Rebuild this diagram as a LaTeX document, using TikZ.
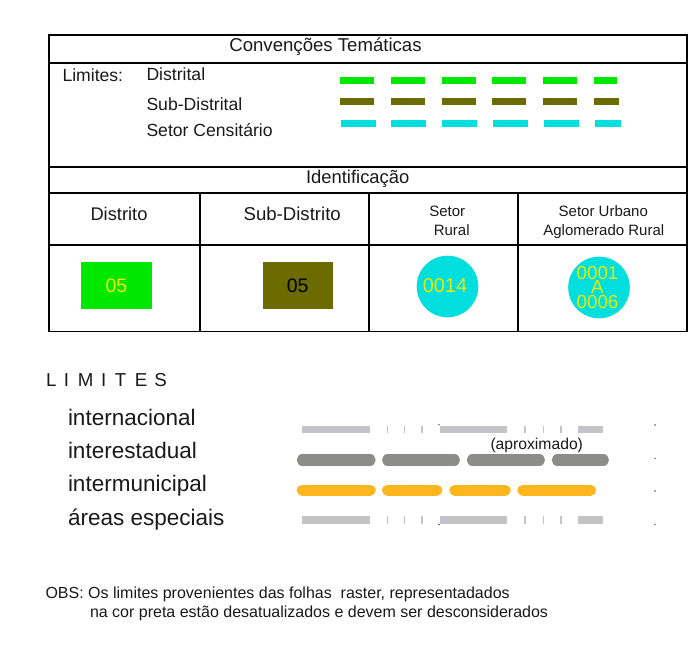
\documentclass[tikz,border=0pt]{standalone}
\usepackage{fontspec}
\setmainfont{Liberation Sans}
\definecolor{cgreen}{RGB}{0,232,0}
\definecolor{colive}{RGB}{107,107,0}
\definecolor{ccyan}{RGB}{0,222,222}
\definecolor{cyel}{RGB}{235,235,0}
\definecolor{clight}{RGB}{196,196,200}
\definecolor{cmid}{RGB}{140,141,139}
\definecolor{corange}{RGB}{253,182,30}
\definecolor{ctext}{RGB}{25,25,25}
\newcommand\myfs[1]{\fontsize{#1}{#1}\selectfont}
\begin{document}
\begin{tikzpicture}[x=1pt,y=-1pt,
  txt/.style={inner sep=0pt,outer sep=0pt,text=ctext},
  grid/.style={line width=1.8pt,draw=black},
  tdash/.style={line width=7.5pt},
  tick/.style={draw=clight,line width=1.3pt},
  thick gray/.style={line width=11.3pt,line cap=round,draw=cmid},
  thick orange/.style={line width=11pt,line cap=round,draw=corange},
  dotmark/.style={fill=black!70}
]
\useasboundingbox (0,0) rectangle (699,646);

% ---------- table ----------
\draw[grid] (49.3,35) rectangle (687.3,331.5);
\draw[grid] (49.3,62.7) -- (687.3,62.7);
\draw[grid] (49.3,166.7) -- (687.3,166.7);
\draw[grid] (49.3,193.3) -- (687.3,193.3);
\draw[grid] (49.3,245) -- (687.3,245);
\draw[grid] (200,193.3) -- (200,331.5);
\draw[grid] (369.3,193.3) -- (369.3,331.5);
\draw[grid] (518,193.3) -- (518,331.5);

\node[txt,anchor=base] (title) at (325.5,51.7) {\myfs{18.6}Convenções Temáticas};
\node[txt,anchor=base west] (lim) at (62.5,81.3) {\myfs{17.6}Limites:};
\node[txt,anchor=base west] (dist) at (146.5,80) {\myfs{17.6}Distrital};
\node[txt,anchor=base west] (subd) at (146.5,110.5) {\myfs{17.6}Sub-Distrital};
\node[txt,anchor=base west] (setc) at (146.5,136) {\myfs{17.6}Setor Censitário};

\draw[tdash,draw=cgreen,dash pattern=on 34pt off 16.8pt] (340,80.7) -- (617,80.7);
\draw[tdash,draw=colive,dash pattern=on 34pt off 16.8pt] (340,101.7) -- (619.3,101.7);
\draw[line width=7pt,draw=ccyan,dash pattern=on 35pt off 15.9pt] (340.5,123.7) -- (620.7,123.7);

\node[txt,anchor=base] (ident) at (357.7,183.3) {\myfs{18.4}Identificação};
\node[txt,anchor=base] (h1) at (119,220.7) {\myfs{18.3}Distrito};
\node[txt,anchor=base] (h2) at (292.2,220.7) {\myfs{18.6}Sub-Distrito};
\node[txt,anchor=base] (h3a) at (447.3,216.7) {\myfs{15}Setor};
\node[txt,anchor=base] (h3b) at (451.7,235) {\myfs{15}Rural};
\node[txt,anchor=base] (h4a) at (603.3,216.7) {\myfs{15}Setor Urbano};
\node[txt,anchor=base] (h4b) at (603.8,235) {\myfs{15}Aglomerado Rural};

\fill[cgreen] (80.7,261.7) rectangle (152.3,309.3);
\node[txt,anchor=base,text=cyel] (d05) at (116.5,292.7) {\myfs{19.5}05};
\fill[colive] (262.7,261.7) rectangle (332.7,309.3);
\node[txt,anchor=base,text=black] (s05) at (297.7,292.7) {\myfs{19.5}05};
\fill[ccyan] (447.5,286.5) circle (30.8);
\node[txt,anchor=base,text=cyel] (r14) at (445,292.7) {\myfs{20}0014};
\fill[ccyan] (599,287.5) circle (30.8);
\node[txt,anchor=base,text=cyel] (u1) at (597.5,279.3) {\myfs{18.8}0001};
\node[txt,anchor=base,text=cyel] (u2) at (597.5,293.3) {\myfs{18.8}A};
\node[txt,anchor=base,text=cyel] (u3) at (597.5,308.3) {\myfs{18.8}0006};

% ---------- LIMITES ----------
\node[txt,anchor=base west] (limt) at (46,386.7) {\myfs{18.7}L\hspace{7.6pt}I\hspace{8.6pt}M\hspace{7.8pt}I\hspace{8.6pt}T\hspace{8.4pt}E\hspace{7pt}S};
\node[txt,anchor=base west] (l1) at (68,425) {\myfs{22.5}internacional};
\node[txt,anchor=base west] (l2) at (68,458.3) {\myfs{22.5}interestadual};
\node[txt,anchor=base west] (l3) at (68,491) {\myfs{22.5}intermunicipal};
\node[txt,anchor=base west] (l4) at (68,525) {\myfs{22.5}áreas especiais};
\node[txt,anchor=base west] (aprox) at (490.5,449.3) {\myfs{15.7}(aproximado)};

% internacional / areas especiais
\foreach \yy/\dy in {429.3/-4.6, 520/4.3}{
  \fill[clight] (302,\yy-3.65) rectangle (370,\yy+3.65);
  \fill[clight] (440,\yy-3.65) rectangle (507.3,\yy+3.65);
  \fill[clight] (577.7,\yy-3.65) rectangle (603.3,\yy+3.65);
  \foreach \xx in {387.3,404.3,422,525,543.3,561}{
    \draw[tick] (\xx,\yy-3.65) -- (\xx,\yy+3.65);
  }
  \fill[black] (439,\yy+\dy) circle (0.7);
}
% interestadual
\draw[thick gray] (302.35,460) -- (370.05,460);
\draw[thick gray] (387.65,460) -- (454.35,460);
\draw[thick gray] (472.35,460) -- (539.35,460);
\draw[thick gray] (557.35,460) -- (603.35,460);
% intermunicipal
\draw[thick orange] (302.2,490) -- (370.2,490);
\draw[thick orange] (387.5,490) -- (436.8,490);
\draw[thick orange] (454.8,490) -- (505.2,490);
\draw[thick orange] (522.8,490) -- (590.5,490);
% right dots
\foreach \yy in {425,458.3,491,524.3}{
  \fill[dotmark] (655,\yy) circle (0.8);
}

% ---------- OBS ----------
\node[txt,anchor=base west] (obs1) at (45.5,598.5) {\myfs{16}OBS: Os limites provenientes das folhas \ raster, representadados};
\node[txt,anchor=base west] (obs2) at (90,617.5) {\myfs{16}na cor preta estão desatualizados e devem ser desconsiderados};
\end{tikzpicture}
\end{document}
